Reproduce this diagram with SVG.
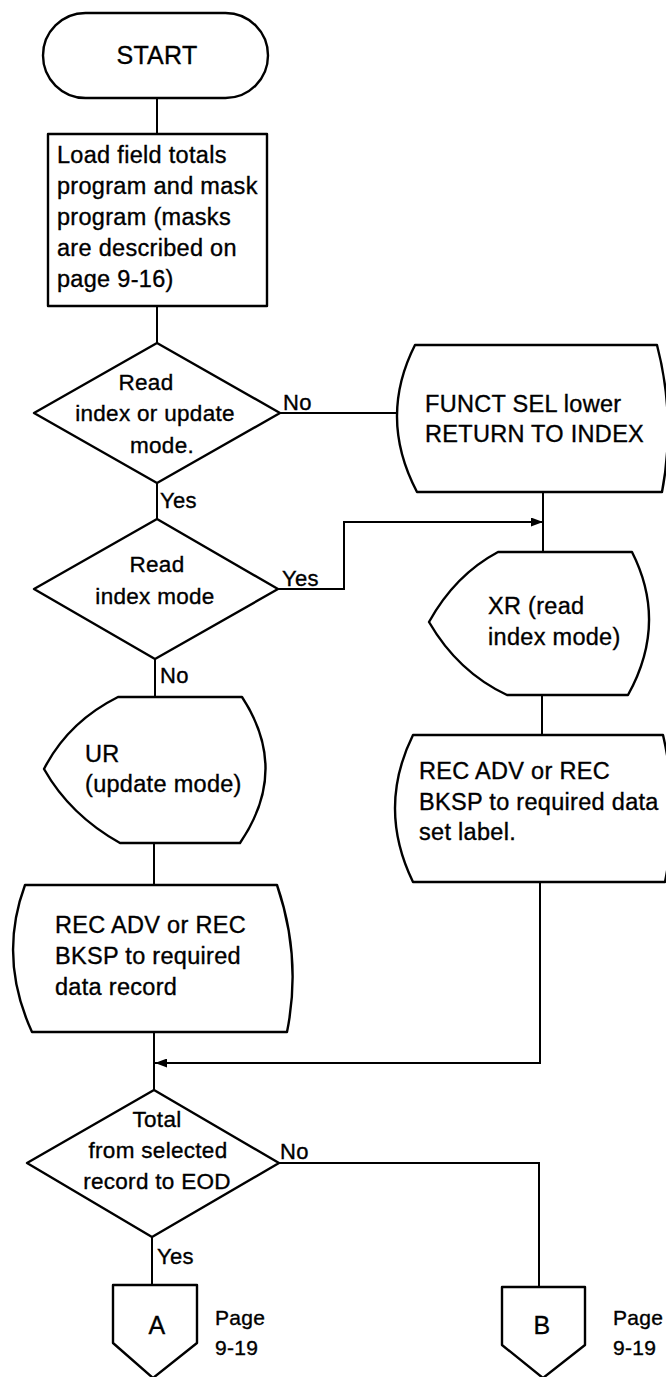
<svg xmlns="http://www.w3.org/2000/svg" width="666" height="1377" viewBox="0 0 666 1377">
<defs>
<marker id="arr" markerUnits="userSpaceOnUse" markerWidth="13" markerHeight="9" refX="12" refY="4.5" orient="auto">
<path d="M0,0 L12,4.5 L0,9 Z" fill="#000"/>
</marker>
</defs>
<style>
.s{fill:#fff;stroke:#000;stroke-width:2.4;stroke-linejoin:round}
.c{fill:none;stroke:#000;stroke-width:2}
text{font-family:"Liberation Sans",Arial,sans-serif;font-size:23.5px;fill:#000;stroke:#000;stroke-width:0.35px;letter-spacing:0.3px}
.m{text-anchor:middle}
.d{font-size:22.5px}
.l{font-size:22px}
.p{font-size:21px}
.big{font-size:25px}
</style>
<rect width="666" height="1377" fill="#fff"/>
<g id="connectors">
<path class="c" d="M157,98 V134"/>
<path class="c" d="M157,306 V343"/>
<path class="c" d="M280,413 H397"/>
<path class="c" d="M157,483 V519"/>
<path class="c" d="M278,589 H344 V522 H543" marker-end="url(#arr)"/>
<path class="c" d="M543,492 V552"/>
<path class="c" d="M155,659 V697"/>
<path class="c" d="M542,695 V735"/>
<path class="c" d="M154,843 V885"/>
<path class="c" d="M154,1032 V1090"/>
<path class="c" d="M540,882 V1063 H155" marker-end="url(#arr)"/>
<path class="c" d="M279,1163 H539 V1287"/>
<path class="c" d="M152,1237 V1285"/>
<text class="l" x="283" y="410">No</text>
<text class="l" x="160" y="508">Yes</text>
<text class="l" x="282" y="586">Yes</text>
<text class="l" x="160" y="683">No</text>
<text class="l" x="280" y="1159">No</text>
<text class="l" x="157" y="1264">Yes</text>
</g>
<g id="start">
<rect class="s" x="43" y="13" width="225" height="85" rx="42.5"/>
<text class="m big" x="157" y="64">START</text>
</g>
<g id="load">
<rect class="s" x="48" y="134" width="219" height="172"/>
<text x="57" y="163">Load field totals</text>
<text x="57" y="194">program and mask</text>
<text x="57" y="225">program (masks</text>
<text x="57" y="256">are described on</text>
<text x="57" y="287">page 9-16)</text>
</g>
<g id="decision1">
<polygon class="s" points="157,343 280,413 157,483 34,413"/>
<text class="m d" x="146" y="390">Read</text>
<text class="m d" x="155" y="421">index or update</text>
<text class="m d" x="162" y="453">mode.</text>
</g>
<g id="funct">
<path class="s" d="M415,345 L657,345 Q676,418 662,492 L417,492 Q378,418 415,345 Z"/>
<text x="425" y="412">FUNCT SEL lower</text>
<text x="425" y="442">RETURN TO INDEX</text>
</g>
<g id="decision2">
<polygon class="s" points="157,519 278,589 155,659 34,589"/>
<text class="m d" x="157" y="572">Read</text>
<text class="m d" x="155" y="604">index mode</text>
</g>
<g id="xr">
<path class="s" d="M498,552 L632,552 Q668,623 628,695 L507,695 Q458,672 429,622 Q455,575 498,552 Z"/>
<text x="488" y="614">XR (read</text>
<text x="488" y="645">index mode)</text>
</g>
<g id="ur">
<path class="s" d="M118,697 L242,697 Q290,770 240,843 L120,843 Q70,815 44,769 Q68,722 118,697 Z"/>
<text x="85" y="762">UR</text>
<text x="85" y="792">(update mode)</text>
</g>
<g id="recright">
<path class="s" d="M413,735 L663,735 Q680,808 665,882 L413,882 Q377,808 413,735 Z"/>
<text x="419" y="779">REC ADV or REC</text>
<text x="419" y="810">BKSP to required data</text>
<text x="419" y="840">set label.</text>
</g>
<g id="recleft">
<path class="s" d="M25,885 L277,885 Q302,958 287,1032 L32,1032 Q-2,958 25,885 Z"/>
<text x="55" y="933">REC ADV or REC</text>
<text x="55" y="964">BKSP to required</text>
<text x="55" y="995">data record</text>
</g>
<g id="decision3">
<polygon class="s" points="154,1090 279,1163 152,1237 27,1163"/>
<text class="m d" x="157" y="1127">Total</text>
<text class="m d" x="158" y="1158">from selected</text>
<text class="m d" x="157" y="1189">record to EOD</text>
</g>
<g id="connA">
<polygon class="s" points="113,1285 197,1285 197,1343 153,1378 113,1343"/>
<text class="m big" x="157" y="1334">A</text>
<text class="p" x="215" y="1325">Page</text>
<text class="p" x="215" y="1355">9-19</text>
</g>
<g id="connB">
<polygon class="s" points="502,1287 585,1287 585,1345 543,1378 502,1345"/>
<text class="m big" x="542" y="1334">B</text>
<text class="p" x="613" y="1325">Page</text>
<text class="p" x="613" y="1355">9-19</text>
</g>
</svg>
